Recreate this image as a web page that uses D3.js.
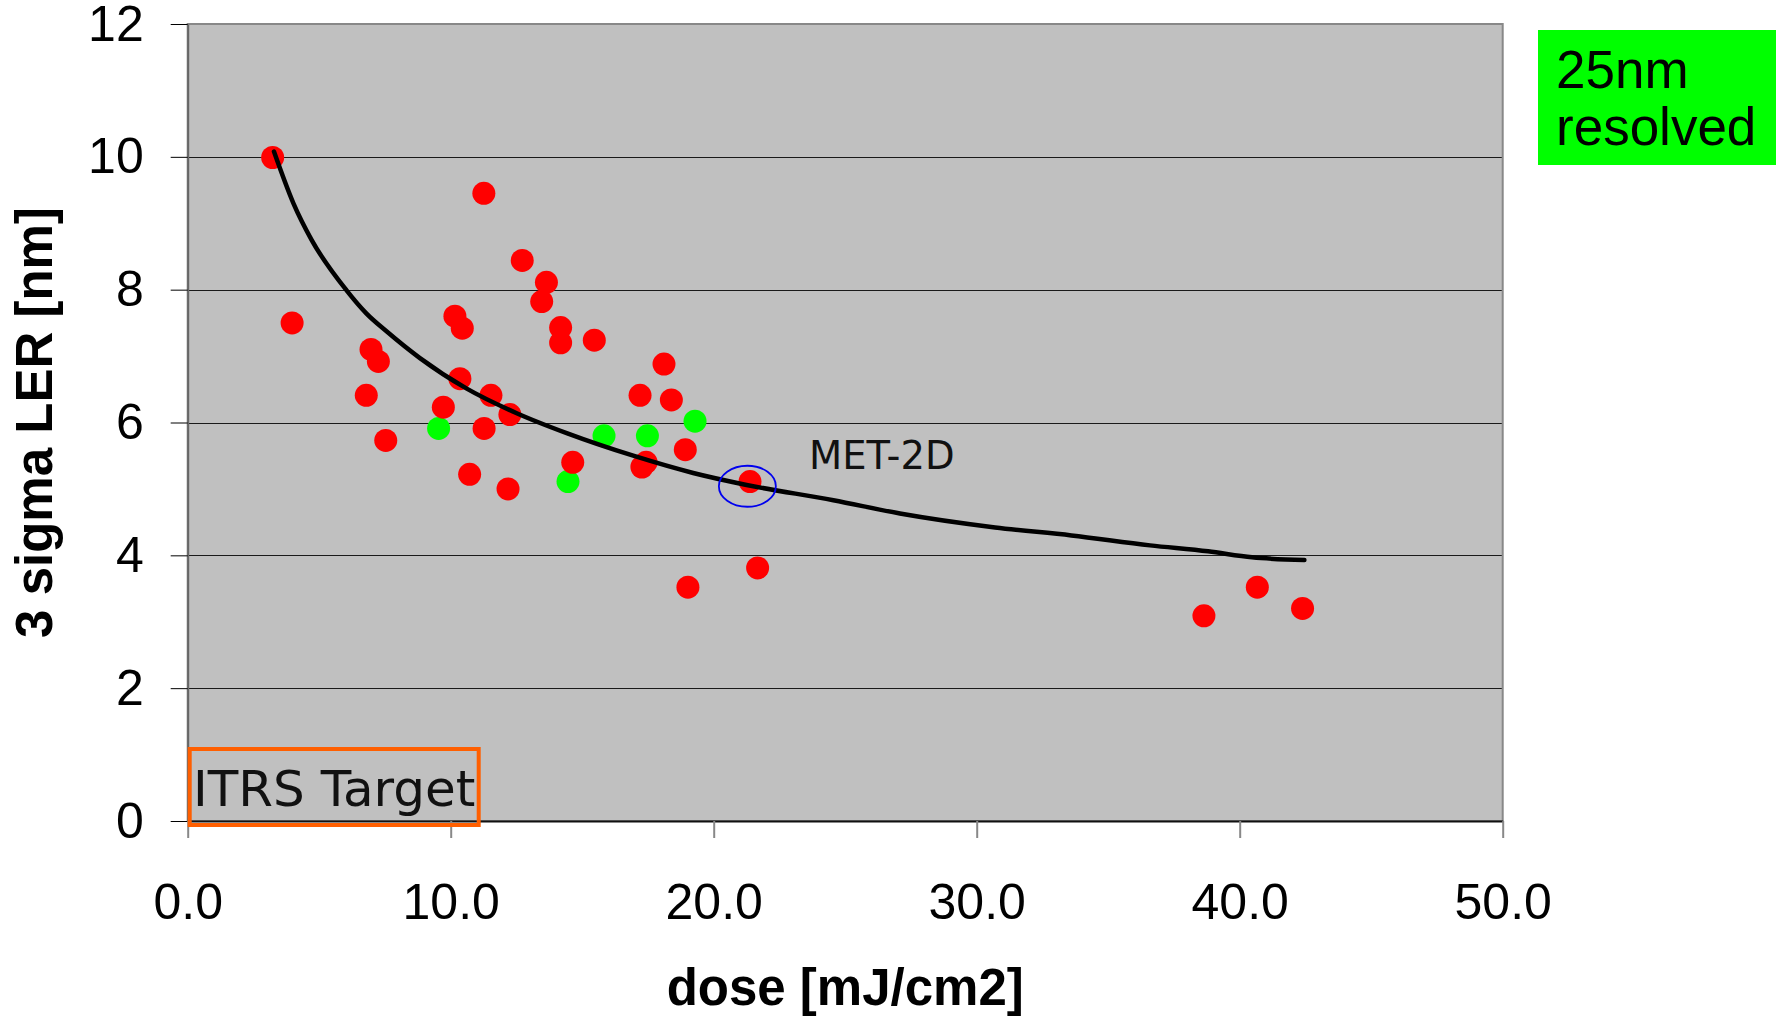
<!DOCTYPE html>
<html>
<head>
<meta charset="utf-8">
<script src="https://cdn.jsdelivr.net/npm/d3@7"></script>
<style>
  body { margin: 0; background: #fff; }
  .tick text { font-family: "Liberation Sans", Arial, sans-serif; font-size: 50px; fill: #000; }
  .axisTitle { font-family: "Liberation Sans", Arial, sans-serif; font-size: 51px; font-weight: bold; }
  .note { font-family: "DejaVu Sans", Verdana, sans-serif; fill: #111; }
</style>
</head>
<body>
<div class="chart"></div>
<script>
// measured points, red = not resolved, green = resolved
var redDose = [3.23, 11.26, 12.72, 13.64, 13.46, 3.97, 10.16, 10.44, 14.18, 14.18, 15.46, 6.97,
  7.25, 18.11, 10.35, 6.79, 11.53, 17.2, 18.39, 9.72, 12.25, 11.27, 7.53, 18.92, 14.64,
  17.43, 17.27, 10.72, 12.18, 21.38, 21.67, 19.02, 38.64, 40.67, 42.39];
var redLer = [9.99, 9.45, 8.44, 8.11, 7.82, 7.50, 7.60, 7.42, 7.43, 7.20, 7.24, 7.10,
  6.92, 6.88, 6.66, 6.41, 6.41, 6.41, 6.34, 6.23, 6.12, 5.91, 5.73, 5.59, 5.40,
  5.40, 5.33, 5.22, 5.00, 5.11, 3.81, 3.52, 3.09, 3.52, 3.20];
var greenDose = [9.54, 19.29, 15.83, 17.48, 14.46];
var greenLer = [5.91, 6.02, 5.80, 5.80, 5.11];

// trend line
var trendDose = [3.28, 4.02, 4.71, 6.04, 6.80, 7.57, 8.83, 10.61, 12.51, 14.41, 16.94,
  19.22, 21.25, 24.55, 27.08, 30.7, 33.6, 36.59, 38.8, 40.47, 42.46];
var trendLer = [10.08, 9.30, 8.75, 7.99, 7.64, 7.37, 6.97, 6.51, 6.14, 5.84, 5.50,
  5.24, 5.06, 4.83, 4.63, 4.42, 4.30, 4.15, 4.06, 3.97, 3.93];

var xTicks = [0, 10, 20, 30, 40, 50];
var yTicks = [0, 2, 4, 6, 8, 10, 12];
var met2d = [21.28, 5.04];

var svgWidth = 1776;
var svgHeight = 1016;
var plot = { left: 187.7, right: 1502.7, top: 24, bottom: 821 };

var svg = d3.select('.chart')
  .append('svg')
  .attr('width', svgWidth)
  .attr('height', svgHeight);

var x = d3.scaleLinear().domain([0, 50]).range([plot.left, plot.right]);
var y = d3.scaleLinear().domain([0, 12]).range([plot.bottom, plot.top]);

// plot background
svg.append('rect')
  .attr('x', plot.left).attr('y', plot.top)
  .attr('width', plot.right - plot.left).attr('height', plot.bottom - plot.top)
  .attr('fill', '#c0c0c0');

// gridlines
svg.append('g').selectAll('line')
  .data(yTicks)
  .enter()
  .append('line')
  .attr('x1', plot.left).attr('x2', plot.right)
  .attr('y1', d => Math.round(y(d)) + 0.5).attr('y2', d => Math.round(y(d)) + 0.5)
  .attr('stroke', '#1a1a1a')
  .attr('stroke-width', 1);

// plot frame
svg.append('rect')
  .attr('x', plot.left).attr('y', plot.top)
  .attr('width', plot.right - plot.left).attr('height', plot.bottom - plot.top)
  .attr('fill', 'none')
  .attr('stroke', '#888')
  .attr('stroke-width', 2);

// axes
var leftAxis = d3.axisLeft(y).tickValues(yTicks).tickSize(17).tickPadding(27).tickSizeOuter(0);
var yAxis = svg.append('g')
  .attr('transform', `translate(${plot.left}, 0)`)
  .call(leftAxis);
yAxis.select('.domain').attr('stroke', '#666').attr('stroke-width', 2);
yAxis.selectAll('.tick line').attr('stroke', '#000');

var bottomAxis = d3.axisBottom(x).tickValues(xTicks).tickFormat(d3.format('.1f'))
  .tickSize(17).tickPadding(45).tickSizeOuter(0);
var xAxis = svg.append('g')
  .attr('transform', `translate(0, ${plot.bottom})`)
  .call(bottomAxis);
xAxis.select('.domain').attr('stroke', '#111').attr('stroke-width', 2);
xAxis.selectAll('.tick line').attr('stroke', '#888').attr('stroke-width', 2);

// points
svg.append('g').selectAll('circle')
  .data(d3.zip(greenDose, greenLer))
  .enter()
  .append('circle')
  .attr('cx', d => x(d[0]))
  .attr('cy', d => y(d[1]))
  .attr('r', 11.5)
  .attr('fill', '#00ff00');

svg.append('g').selectAll('circle')
  .data(d3.zip(redDose, redLer))
  .enter()
  .append('circle')
  .attr('cx', d => x(d[0]))
  .attr('cy', d => y(d[1]))
  .attr('r', 11.5)
  .attr('fill', '#ff0000');

// trend line
var line = d3.line()
  .x(d => x(d[0]))
  .y(d => y(d[1]))
  .curve(d3.curveMonotoneX);

svg.append('path')
  .datum(d3.zip(trendDose, trendLer))
  .attr('d', line)
  .attr('fill', 'none')
  .attr('stroke', '#000')
  .attr('stroke-width', 4.5)
  .attr('stroke-linecap', 'round');

// MET-2D marker
svg.append('ellipse')
  .attr('cx', x(met2d[0])).attr('cy', y(met2d[1]))
  .attr('rx', 28.5).attr('ry', 20.5)
  .attr('fill', 'none')
  .attr('stroke', '#0000ee')
  .attr('stroke-width', 1.8);

svg.append('text')
  .attr('class', 'note')
  .attr('x', 809).attr('y', 469)
  .style('font-size', '38.5px')
  .text('MET-2D');

// ITRS target box
svg.append('rect')
  .attr('x', x(0) + 2).attr('y', 749)
  .attr('width', 289).attr('height', 76)
  .attr('fill', 'none')
  .attr('stroke', '#ff5f00')
  .attr('stroke-width', 4);

svg.append('text')
  .attr('class', 'note')
  .attr('x', 193).attr('y', 806)
  .style('font-size', '50px')
  .text('ITRS Target');

// 25nm resolved label
svg.append('rect')
  .attr('x', 1538).attr('y', 30)
  .attr('width', 240).attr('height', 135)
  .attr('fill', '#00ff00');

var lbl = svg.append('text')
  .attr('font-family', '"Liberation Sans", Arial, sans-serif')
  .attr('font-size', 53);
lbl.append('tspan').attr('x', 1556).attr('y', 88).text('25nm');
lbl.append('tspan').attr('x', 1556).attr('y', 145).text('resolved');

// axis titles
svg.append('text')
  .attr('class', 'axisTitle')
  .attr('transform', `translate(52, ${(plot.top + plot.bottom) / 2}) rotate(-90)`)
  .attr('text-anchor', 'middle')
  .text('3 sigma LER [nm]');

svg.append('text')
  .attr('class', 'axisTitle')
  .attr('x', (plot.left + plot.right) / 2)
  .attr('y', 1005)
  .attr('text-anchor', 'middle')
  .text('dose [mJ/cm2]');
</script>
</body>
</html>
